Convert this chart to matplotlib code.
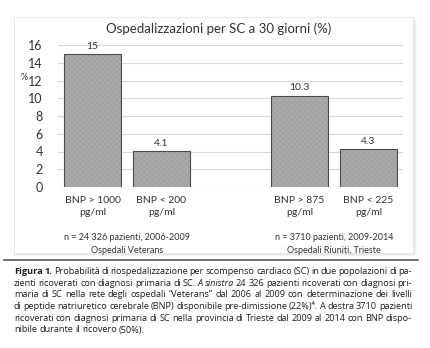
import numpy as np
import matplotlib.pyplot as plt
from matplotlib.patches import Rectangle
from matplotlib.transforms import blended_transform_factory

# Chart data (middle slot left empty to separate the two cohorts)
categories = ['BNP > 1000\npg/ml', 'BNP < 200\npg/ml', '', 'BNP > 875\npg/ml', 'BNP < 225\npg/ml']
values = [15, 4.1, np.nan, 10.3, 4.3]
group_labels = ['n = 24 326 pazienti, 2006-2009\nOspedali Veterans',
                'n = 3710 pazienti, 2009-2014\nOspedali Riuniti, Trieste']
group_centers = [0.5, 3.5]
yticks = [0, 2, 4, 6, 8, 10, 12, 14, 16]

title = 'Ospedalizzazioni per SC a 30 giorni (%)'

# Caption lines: each is a list of (text, weight, style) runs
caption = [
    [('Figura 1.', 'bold', 'normal'),
     ('Probabilità di riospedalizzazione per scompenso cardiaco (SC) in due popolazioni di pa-', 'normal', 'normal')],
    [('zienti ricoverati con diagnosi primaria di SC.', 'normal', 'normal'),
     ('A sinistra', 'normal', 'italic'),
     ('24 326 pazienti ricoverati con diagnosi pri-', 'normal', 'normal')],
    [('maria di SC nella rete degli ospedali “Veterans” dal 2006 al 2009 con determinazione dei livelli', 'normal', 'normal')],
    [('di peptide natriuretico cerebrale (BNP) disponibile pre-dimissione (22%)⁴. A destra 3710 pazienti', 'normal', 'normal')],
    [('ricoverati con diagnosi primaria di SC nella provincia di Trieste dal 2009 al 2014 con BNP dispo-', 'normal', 'normal')],
    [('nibile durante il ricovero (50%).', 'normal', 'normal')],
]

plt.rcParams['hatch.linewidth'] = 0.3

W, H = 430, 348
fig = plt.figure(figsize=(W / 100, H / 100), dpi=100)
fig.patch.set_facecolor('white')

def px(x, y):
    """pixel (top-left origin) -> figure fraction"""
    return x / W, 1 - y / H

# chart frame with a soft shadow
for i, a in enumerate([0.05, 0.04, 0.03, 0.02]):
    d = i + 1
    fig.patches.append(Rectangle((14 / W, (H - 253 - d) / H), (399 + d) / W, 236 / H,
                                 transform=fig.transFigure, facecolor='black', alpha=a,
                                 edgecolor='none', zorder=-3))
fig.patches.append(Rectangle((14 / W, (H - 253) / H), 399 / W, 236 / H,
                             transform=fig.transFigure, facecolor='white',
                             edgecolor='#e6e6e6', linewidth=0.6, zorder=-2))

ax = fig.add_axes([58 / W, (H - 187) / H, 345 / W, 142 / H])
ax.set_facecolor('none')
x = np.arange(len(categories))
ax.bar(x, values, width=0.84, color='#aaaaaa', edgecolor='none', zorder=2)
ax.bar(x, values, width=0.84, color='none', edgecolor='#9a9a9a', hatch='xxxxxx',
       linewidth=0, zorder=3)
ax.bar(x, values, width=0.84, color='none', edgecolor='#4a4a4a', linewidth=0.8, zorder=4)

for xi, v in zip(x, values):
    if not np.isnan(v):
        ax.text(xi, v + 0.35, f'{v:g}', ha='center', va='bottom', fontsize=7.5,
                family='Lato', color='#333333')

ax.set_xlim(-0.5, len(categories) - 0.5)
ax.set_ylim(0, 16)
ax.set_yticks(yticks)
ax.yaxis.grid(True, color='#d9d9d9', linewidth=0.8, zorder=0)
ax.set_axisbelow(True)
for s in ax.spines.values():
    s.set_visible(False)
ax.tick_params(axis='both', length=0, colors='#333333')
ax.tick_params(axis='y', pad=11, labelsize=9)
ax.tick_params(axis='x', pad=6.5, labelsize=7.5)
ax.set_xticks(x)
ax.set_xticklabels(categories, family='Lato', linespacing=1.45)
for lab in ax.get_yticklabels():
    lab.set_family('Lato')

fig.text(*px(24, 77), '%', ha='center', va='center', fontsize=6.5, family='Lato', color='#333333')
fig.text(*px(219, 29), title, ha='center', va='center', fontsize=9.5, family='Lato', color='#333333')

trans = blended_transform_factory(ax.transData, fig.transFigure)
for gx, gl in zip(group_centers, group_labels):
    ax.text(gx, 1 - 244 / H, gl, transform=trans, ha='center', va='center',
            fontsize=6.5, family='Lato', color='#333333', linespacing=1.65)

# separator line under the chart
fig.add_artist(plt.Line2D([4 / W, 418 / W], [1 - 260 / H] * 2, transform=fig.transFigure,
                          color='#4a4a4a', linewidth=1.1))

# justified caption
renderer = fig.canvas.get_renderer()
left, right = 14, 412
fam = ['Open Sans', 'DejaVu Sans']
fs = 6.6
for li, runs in enumerate(caption):
    y = 1 - (271.5 + li * 11.7) / H
    words = []
    for text, weight, style in runs:
        for w in text.split(' '):
            words.append((w, weight, style))
    arts = []
    for w, weight, style in words:
        t = fig.text(0, y, w, fontsize=fs, family=fam, weight=weight, style=style,
                     color='#1e1e1e', va='center', ha='left')
        arts.append(t)
    widths = [a.get_window_extent(renderer).width for a in arts]
    if li == len(caption) - 1:
        gap = 2.2
    else:
        gap = (right - left - sum(widths)) / (len(arts) - 1)
    cx = left
    for a, w in zip(arts, widths):
        a.set_x(cx / W)
        cx += w + gap

fig.savefig('out.png', dpi=100)
